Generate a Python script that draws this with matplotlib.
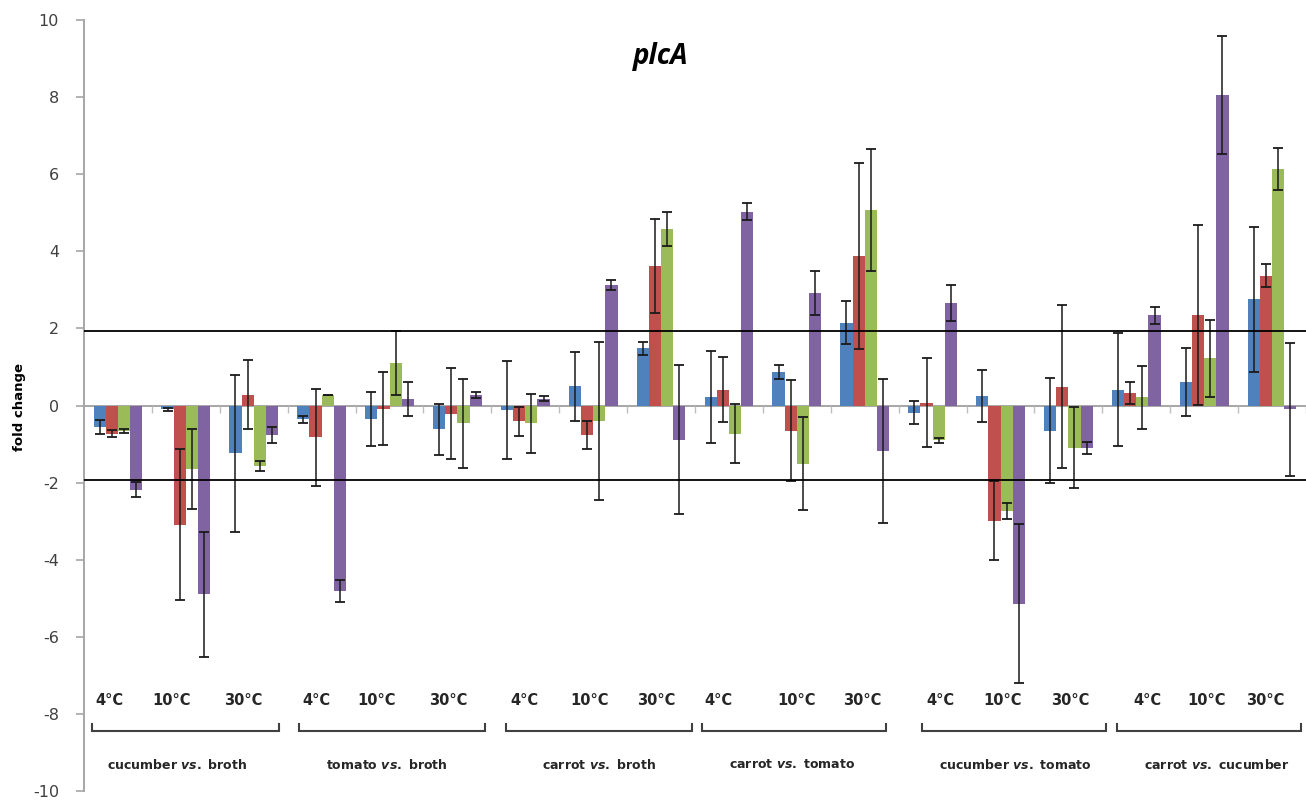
import numpy as np
import matplotlib
matplotlib.use("Agg")
import matplotlib.pyplot as plt

plt.rcParams['mathtext.fontset'] = 'custom'
plt.rcParams['mathtext.bfit'] = 'DejaVu Sans:italic:bold'
plt.rcParams['mathtext.it'] = 'DejaVu Sans:italic:bold'
plt.rcParams['mathtext.rm'] = 'DejaVu Sans:bold'
plt.rcParams['axes.unicode_minus'] = False

# ---------------- data ----------------
temperatures = ["4°C", "10°C", "30°C"]
comparisons = ["cucumber vs. broth", "tomato vs. broth", "carrot vs. broth",
               "carrot vs. tomato", "cucumber vs. tomato", "carrot vs. cucumber"]
series_colors = ["#4F81BD", "#C0504D", "#9BBB59", "#8064A2"]

blue = [-0.56, -0.10, -1.24, -0.36, -0.36, -0.62, -0.12, 0.50, 1.48,
        0.22, 0.86, 2.15, -0.19, 0.24, -0.65, 0.41, 0.62, 2.75]
blue_err = [0.18, 0.03, 2.04, 0.10, 0.70, 0.67, 1.27, 0.90, 0.17,
            1.19, 0.18, 0.56, 0.30, 0.68, 1.36, 1.46, 0.88, 1.88]
red = [-0.73, -3.09, 0.28, -0.82, -0.08, -0.21, -0.41, -0.76, 3.63,
       0.41, -0.65, 3.87, 0.07, -2.99, 0.49, 0.33, 2.34, 3.37]
red_err = [0.10, 1.95, 0.90, 1.26, 0.95, 1.17, 0.38, 0.37, 1.22,
           0.84, 1.30, 2.41, 1.15, 1.02, 2.11, 0.28, 2.33, 0.30]
green = [-0.66, -1.65, -1.57, 0.27, 1.11, -0.46, -0.46, -0.40, 4.58,
         -0.73, -1.51, 5.07, -0.90, -2.74, -1.10, 0.21, 1.22, 6.13]
green_err = [0.05, 1.04, 0.13, 0.01, 0.83, 1.15, 0.76, 2.05, 0.44,
             0.76, 1.20, 1.58, 0.06, 0.20, 1.05, 0.82, 0.99, 0.54]
purple = [-2.18, -4.90, -0.77, -4.82, 0.18, 0.28, 0.18, 3.13, -0.89,
          5.03, 2.92, -1.18, 2.65, -5.14, -1.10, 2.34, 8.06, -0.10]
purple_err = [0.19, 1.63, 0.20, 0.29, 0.44, 0.08, 0.07, 0.13, 1.93,
              0.23, 0.58, 1.87, 0.47, 2.07, 0.15, 0.22, 1.53, 1.73]
threshold = 1.93

series = [(blue, blue_err), (red, red_err), (green, green_err), (purple, purple_err)]

# ---------------- layout (category units) ----------------
temp_label_x = [-0.12, 0.79, 1.85, 2.93, 3.81, 4.87, 5.99, 6.94, 7.93,
                8.85, 9.99, 10.97, 12.12, 13.03, 14.03, 15.16, 16.04, 16.9]
bracket_span = [(-0.38, 2.37), (2.66, 5.40), (5.72, 8.46),
                (8.60, 11.32), (11.85, 14.56), (14.71, 17.43)]
group_label_x = [0.87, 3.96, 7.09, 9.93, 13.22, 16.19]

fig = plt.figure(figsize=(13.06, 8), dpi=100)
ax = fig.add_axes([84/1306, 9/800, 1222/1306, 771/800])

n = len(blue)
x = np.arange(n)
w = 0.18
for k, ((vals, errs), col) in enumerate(zip(series, series_colors)):
    ax.bar(x + (k - 1.5) * w, vals, w, color=col, zorder=2,
           yerr=errs, error_kw=dict(ecolor="#1a1a1a", elinewidth=1.1,
                                    capsize=3.6, capthick=1.3, zorder=3))

ax.axhline(threshold, color="black", lw=1.3, zorder=4)
ax.axhline(-threshold, color="black", lw=1.3, zorder=4)

ax.set_xlim(-0.5, n - 0.5)
ax.set_ylim(-10, 10)
ax.set_yticks(np.arange(-10, 11, 2))
ax.set_xticks(np.arange(0.5, n, 1))
ax.set_xticklabels([])
for s in ["top", "right"]:
    ax.spines[s].set_visible(False)
ax.spines["bottom"].set_position(("data", 0))
ax.spines["bottom"].set_color("#a6a6a6")
ax.spines["bottom"].set_linewidth(1.4)
ax.spines["bottom"].set_zorder(1.5)
ax.spines["left"].set_color("#a6a6a6")
ax.spines["left"].set_linewidth(1.4)
ax.tick_params(axis="x", direction="out", length=5, width=1, color="#bfbfbf")
ax.tick_params(axis="y", direction="out", length=6, width=1.2, color="#a6a6a6",
               labelsize=11.5, labelcolor="#404040", pad=12)

fig.text(20/1306, 1 - 407/800, "fold change", fontsize=9.5, fontweight="bold",
         rotation=90, ha="center", va="center")

ax.text(8.0, 9.05, "plcA", fontsize=20, fontweight="bold", fontstyle="italic",
        family="Open Sans", ha="center", va="center")

for i, xp in enumerate(temp_label_x):
    ax.text(xp, -7.64, temperatures[i % 3], fontsize=10.5, fontweight="bold",
            color="#262626", ha="center", va="center")

for (x0, x1), gx, name in zip(bracket_span, group_label_x, comparisons):
    ax.plot([x0, x0, x1, x1], [-8.26, -8.44, -8.44, -8.26], color="#404040",
            lw=1.5, clip_on=False, solid_joinstyle="miter")
    a, b = name.split(" vs. ")
    ax.text(gx, -9.32, a + r" $\mathit{vs.}$ " + b, fontsize=9, fontweight="bold",
            color="#262626", ha="center", va="center")

fig.savefig("out.png", dpi=100)
